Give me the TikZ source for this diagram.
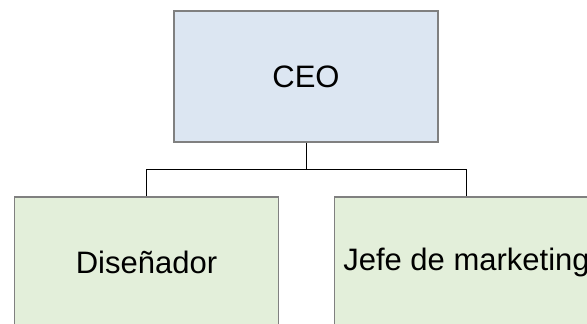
\documentclass[tikz,border=0pt]{standalone}
\usepackage{fontspec}
\setmainfont{Liberation Sans}
\definecolor{ceofill}{HTML}{DCE6F2}
\definecolor{staffill}{HTML}{E3EFDA}
\definecolor{boxline}{HTML}{808080}
\begin{document}
\begin{tikzpicture}[x=1pt,y=-1pt,
  orgbox/.style={draw=boxline,line width=1.2pt,minimum width=264pt,minimum height=131pt,
    inner sep=0pt,font=\fontsize{31}{37}\selectfont},
  link/.style={draw=black,line width=0.8pt}]
  \useasboundingbox (0,0) rectangle (587,324);
  \clip (0,0) rectangle (587,324);
  \node[orgbox,fill=ceofill] (ceo) at (306,76.5) {CEO};
  \node[orgbox,fill=staffill] (dis) at (146.5,262.5) {Diseñador};
  \node[orgbox,fill=staffill] (mkt) at (466.5,262.5) {Jefe de marketing};
  \coordinate (split) at (306,169);
  \draw[link] (ceo.south) -- (split);
  \draw[link] (split) -| (dis.north);
  \draw[link] (split) -| (mkt.north);
\end{tikzpicture}
\end{document}
